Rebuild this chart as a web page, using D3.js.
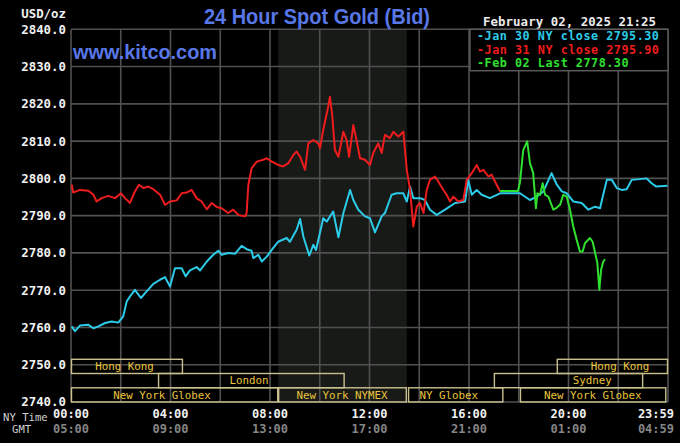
<!DOCTYPE html>
<html><head><meta charset="utf-8">
<script src="https://cdn.jsdelivr.net/npm/d3@7"></script>
<style>
html,body{margin:0;padding:0;background:#000;}
svg{display:block;}
</style></head>
<body>
<svg id="chart" width="680" height="443"></svg>
<script>
// ---------- DATA ----------
const yTicks = [2740,2750,2760,2770,2780,2790,2800,2810,2820,2830,2840];
const gridHours = [0,2,4,6,8,10,12,14,16,18,20,22,24];
const nyTickHours = [0,4,8,12,16,20,24];
const nyTickLabels = ["00:00","04:00","08:00","12:00","16:00","20:00","23:59"];
const gmtTickLabels = ["05:00","09:00","13:00","17:00","21:00","01:00","04:59"];

// Jan 30 (cyan)
const cyanHours = [0.03,0.16,0.36,0.70,0.90,1.10,1.37,1.64,1.90,2.10,2.24,2.37,2.57,2.81,3.04,3.31,3.58,3.78,3.98,4.18,4.45,4.61,4.78,5.05,5.19,5.46,5.72,5.92,6.06,6.32,6.60,6.86,7.06,7.26,7.33,7.53,7.67,7.87,8.07,8.33,8.67,8.80,9.07,9.21,9.34,9.58,9.74,9.85,10.14,10.28,10.54,10.75,10.95,11.22,11.35,11.55,11.82,12.02,12.22,12.49,12.62,12.89,13.09,13.36,13.50,13.63,13.76,14.03,14.23,14.43,14.70,15.04,15.44,15.84,15.97,16.11,16.31,16.51,16.84,17.25,18.05,18.45,18.72,18.99,19.32,19.53,19.73,19.93,20.19,20.53,20.80,21.07,21.27,21.33,21.54,21.74,21.94,22.14,22.34,22.54,22.87,23.14,23.34,23.53,23.98];
const cyanValues = [2760.3,2759.0,2760.5,2760.7,2759.8,2760.3,2761.2,2761.6,2761.3,2763.0,2767.0,2768.3,2770.1,2767.9,2769.7,2771.7,2772.8,2773.5,2771.0,2775.9,2775.9,2773.7,2775.3,2776.2,2775.3,2777.7,2779.5,2780.6,2779.5,2780.0,2779.8,2781.9,2781.0,2780.6,2778.6,2779.5,2777.7,2779.0,2780.8,2783.0,2784.0,2783.0,2786.2,2789.1,2784.4,2779.3,2782.2,2780.8,2789.3,2788.4,2791.1,2784.2,2790.7,2796.9,2794.2,2791.6,2789.8,2789.3,2785.5,2789.8,2790.7,2795.6,2796.0,2796.0,2793.8,2797.8,2794.7,2794.7,2794.2,2791.6,2790.2,2791.6,2793.4,2793.8,2799.6,2795.6,2796.9,2795.6,2794.7,2796.0,2796.0,2794.2,2795.1,2796.5,2801.4,2798.3,2796.5,2796.0,2793.8,2793.4,2791.6,2792.4,2792.0,2793.8,2799.6,2799.6,2797.4,2796.9,2797.1,2799.6,2799.8,2800.0,2798.7,2797.8,2798.0];

// Jan 31 (red)
const redHours = [0.03,0.09,0.36,0.70,0.90,1.03,1.23,1.50,1.77,2.01,2.17,2.37,2.57,2.73,2.91,3.11,3.31,3.58,3.78,3.98,4.25,4.45,4.65,4.85,5.05,5.25,5.46,5.66,5.86,6.06,6.32,6.52,6.73,7.00,7.06,7.13,7.26,7.47,7.73,7.87,8.07,8.33,8.53,8.74,8.94,9.07,9.21,9.41,9.54,9.74,9.94,10.01,10.14,10.34,10.41,10.50,10.61,10.75,10.95,11.08,11.18,11.35,11.49,11.62,11.82,12.02,12.15,12.35,12.49,12.62,12.82,12.96,13.16,13.36,13.50,13.63,13.76,13.90,14.03,14.17,14.30,14.43,14.63,14.77,14.97,15.10,15.24,15.37,15.57,15.77,15.91,16.11,16.31,16.44,16.58,16.78,16.91,17.05,17.25];
const redValues = [2798.3,2796.2,2796.9,2796.7,2795.6,2793.8,2794.7,2795.3,2794.7,2796.0,2794.7,2793.4,2796.5,2798.3,2797.4,2797.8,2797.1,2795.6,2792.9,2793.8,2794.1,2796.0,2796.2,2796.9,2794.7,2793.8,2791.7,2793.4,2792.3,2792.0,2790.7,2791.6,2790.2,2789.8,2790.7,2798.3,2802.7,2804.5,2805.0,2805.4,2804.5,2803.6,2803.2,2804.1,2806.3,2807.2,2805.8,2802.3,2809.4,2810.3,2809.4,2808.1,2813.0,2819.3,2821.9,2817.0,2807.6,2805.8,2812.5,2810.3,2805.8,2814.3,2809.9,2805.4,2805.0,2803.6,2806.8,2809.4,2806.8,2811.7,2810.8,2812.5,2811.2,2812.5,2802.3,2796.9,2787.1,2792.4,2793.4,2790.7,2796.9,2799.6,2800.5,2799.1,2796.9,2795.6,2793.8,2795.1,2793.8,2794.2,2799.6,2801.4,2803.6,2801.8,2802.3,2800.5,2801.0,2799.1,2796.5];

// Feb 02 (green)
const greenHours = [17.25,17.97,18.05,18.18,18.34,18.45,18.58,18.69,18.75,18.86,18.96,19.06,19.19,19.39,19.50,19.66,19.79,19.93,20.06,20.19,20.33,20.46,20.57,20.66,20.86,20.97,21.07,21.16,21.24,21.31,21.40,21.47];
const greenValues = [2796.6,2796.6,2799.0,2807.6,2809.9,2804.1,2801.4,2792.0,2796.0,2795.6,2798.7,2795.6,2795.1,2791.6,2792.0,2792.9,2795.6,2795.1,2791.6,2787.1,2783.5,2780.4,2780.4,2782.6,2784.0,2783.0,2780.0,2777.3,2770.1,2775.5,2777.7,2778.3];

const legendLabels = ["-Jan 30 NY close 2795.30","-Jan 31 NY close 2795.90","-Feb 02 Last 2778.30"];

// trading sessions: row, start hour, end hour, label, label hour
const sessionRows   = [0,0,1,1,2,2,2,2];
const sessionStarts = [0,19.53,3.5,17.0,0,8.33,13.55,18.05];
const sessionEnds   = [4.5,24,11.0,23.0,8.33,13.5,17.38,23.93];
const sessionNames  = ["Hong Kong","Hong Kong","London","Sydney","New York Globex","New York NYMEX","NY Globex","New York Globex"];
const sessionLabelAt= [2.15,22.07,7.16,20.96,3.66,10.89,15.19,20.98];

const shadeStart = 8.33, shadeEnd = 13.5;

// ---------- DRAW ----------
const svg = d3.select("#chart");
const mono = "'DejaVu Sans Mono', monospace";
const L = 71, R = 668, T = 29.3, B = 402;
const x = d3.scaleLinear().domain([0,24]).range([L,R]);
const y = d3.scaleLinear().domain([2740,2840]).range([B,T]);

svg.append("rect").attr("width",680).attr("height",443).attr("fill","#000");

// shaded NYMEX area
svg.append("rect").attr("x",x(shadeStart)).attr("y",T)
  .attr("width",x(shadeEnd)-x(shadeStart)).attr("height",B-T).attr("fill","#171a17");

// grid
const gridColor = "#505050";
svg.append("g").selectAll("line").data(gridHours).join("line")
  .attr("x1",d=>x(d)).attr("x2",d=>x(d)).attr("y1",T).attr("y2",B)
  .attr("stroke",gridColor).attr("stroke-width",1.6);
svg.append("g").selectAll("line").data(yTicks).join("line")
  .attr("x1",L).attr("x2",R).attr("y1",d=>y(d)).attr("y2",d=>y(d))
  .attr("stroke",gridColor).attr("stroke-width",1.6);

// y axis labels
const yAxis = d3.axisLeft(y).tickValues(yTicks).tickFormat(d3.format(".1f")).tickSize(0).tickPadding(5);
const gy = svg.append("g").attr("transform",`translate(${L},0)`).call(yAxis);
gy.select(".domain").remove();
gy.selectAll("text").attr("fill","#f2f2f2").attr("font-family",mono).attr("font-size","12.4px")
  .attr("font-weight","bold");

svg.append("text").attr("x",66).attr("y",18).attr("text-anchor","end")
  .attr("fill","#f2f2f2").attr("font-family",mono).attr("font-size","12.4px").attr("font-weight","bold")
  .text("USD/oz");

// sessions
const rowTop = [359.3,373.5,387.8], rowH = 14.2;
const sess = d3.range(sessionNames.length);
const gs = svg.append("g");
gs.selectAll("rect").data(sess).join("rect")
  .attr("x",i=>x(sessionStarts[i])+0.5).attr("y",i=>rowTop[sessionRows[i]])
  .attr("width",i=>x(sessionEnds[i])-x(sessionStarts[i])-1).attr("height",rowH)
  .attr("fill","none").attr("stroke","#c9c08e").attr("stroke-width",1.4);
gs.selectAll("text").data(sess).join("text")
  .attr("x",i=>x(sessionLabelAt[i])).attr("y",i=>rowTop[sessionRows[i]]+rowH/2)
  .attr("dy","0.36em").attr("text-anchor","middle")
  .attr("fill","#eac43c").attr("font-family",mono).attr("font-size","10.8px")
  .text(i=>sessionNames[i]);

// lines
const line = d3.line().x(d=>x(d[0])).y(d=>y(d[1]));
function series(hours, values, color){
  svg.append("path").datum(d3.zip(hours, values)).attr("d",line)
    .attr("fill","none").attr("stroke",color).attr("stroke-width",2)
    .attr("stroke-linejoin","round");
}
series(cyanHours, cyanValues, "#2ccbe8");
series(redHours, redValues, "#ee1c1c");
series(greenHours, greenValues, "#2fe02f");

// x axis labels
const xl = svg.append("g");
xl.selectAll("text.ny").data(nyTickHours).join("text").attr("class","ny")
  .attr("x",(d,i)=> i===nyTickHours.length-1 ? x(d)+6 : x(d))
  .attr("text-anchor",(d,i)=> i===nyTickHours.length-1 ? "end" : "middle")
  .attr("y",417.5).attr("fill","#f2f2f2").attr("font-family",mono).attr("font-size","12px")
  .attr("font-weight","bold").text((d,i)=>nyTickLabels[i]);
xl.selectAll("text.gmt").data(nyTickHours).join("text").attr("class","gmt")
  .attr("x",(d,i)=> i===nyTickHours.length-1 ? x(d)+6 : x(d))
  .attr("text-anchor",(d,i)=> i===nyTickHours.length-1 ? "end" : "middle")
  .attr("y",433.3).attr("fill","#858585").attr("font-family",mono).attr("font-size","12px")
  .attr("font-weight","bold").text((d,i)=>gmtTickLabels[i]);
svg.append("text").attr("x",3).attr("y",420.5).attr("fill","#d0d0d0").attr("font-family",mono)
  .attr("font-size","10.6px").text("NY Time");
svg.append("text").attr("x",12).attr("y",433).attr("fill","#d0d0d0").attr("font-family",mono)
  .attr("font-size","10.6px").text("GMT");

// titles
const blue = "#5878e8";
svg.append("text").attr("x",204).attr("y",23.5).attr("fill",blue)
  .attr("font-family","'Liberation Sans', Arial, sans-serif").attr("font-size","21.5px").attr("font-weight","bold")
  .attr("textLength",226).attr("lengthAdjust","spacingAndGlyphs").text("24 Hour Spot Gold (Bid)");
svg.append("text").attr("x",73).attr("y",59).attr("fill",blue)
  .attr("font-family","'Liberation Sans', Arial, sans-serif").attr("font-size","19.5px").attr("font-weight","bold")
  .attr("textLength",144).attr("lengthAdjust","spacingAndGlyphs").text("www.kitco.com");
svg.append("text").attr("x",483).attr("y",26).attr("fill","#ececec").attr("font-family",mono)
  .attr("font-size","12.4px").attr("font-weight","bold").attr("textLength",173).attr("lengthAdjust","spacing")
  .text("February 02, 2025 21:25");

// legend
svg.append("rect").attr("x",470).attr("y",T).attr("width",R-470).attr("height",41.4)
  .attr("fill","#000").attr("stroke","#5a5a5a").attr("stroke-width",1.5);
const legendColors = ["#2ccbe8","#ee1c1c","#2fe02f"];
svg.append("g").selectAll("text").data(legendLabels).join("text")
  .attr("x",477).attr("y",(d,i)=>36.2+i*13.3).attr("dy","0.36em")
  .attr("fill",(d,i)=>legendColors[i]).attr("font-family",mono).attr("font-size","11.8px")
  .attr("letter-spacing","0.5px")
  .attr("font-weight","bold").text(d=>d);
</script>
</body></html>
